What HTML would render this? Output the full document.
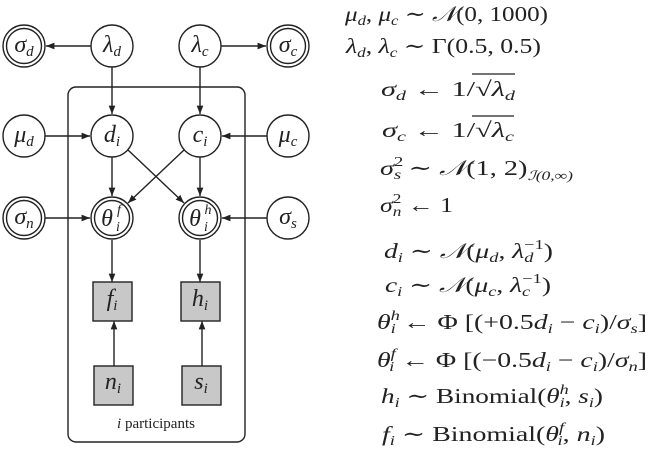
<!DOCTYPE html>
<html><head><meta charset="utf-8"><style>
html,body{margin:0;padding:0;background:#fff}
svg{display:block}
text{font-family:"Liberation Serif","DejaVu Serif",serif;fill:#222}
.i{font-style:italic}
</style></head><body>
<svg width="649" height="464" viewBox="0 0 649 464" xmlns="http://www.w3.org/2000/svg">
<defs><marker id="a" viewBox="0 0 10 10" refX="10" refY="5" markerWidth="6" markerHeight="6" orient="auto"><path d="M0,1 L10,5 L0,9 z" fill="#222"/></marker></defs>
<g stroke="#222" stroke-width="1.4" fill="none">
<rect x="68" y="87" width="177" height="355" rx="8"/>
<line x1="91" y1="46" x2="46" y2="46" marker-end="url(#a)"/>
<line x1="221" y1="46" x2="266" y2="46" marker-end="url(#a)"/>
<line x1="112" y1="67" x2="112" y2="114" marker-end="url(#a)"/>
<line x1="200" y1="67" x2="200" y2="114" marker-end="url(#a)"/>
<line x1="45" y1="136" x2="90" y2="136" marker-end="url(#a)"/>
<line x1="267" y1="136" x2="222" y2="136" marker-end="url(#a)"/>
<line x1="112" y1="157" x2="112" y2="196" marker-end="url(#a)"/>
<line x1="200" y1="157" x2="200" y2="196" marker-end="url(#a)"/>
<line x1="128" y1="150" x2="184" y2="203" marker-end="url(#a)"/>
<line x1="184" y1="150" x2="128" y2="203" marker-end="url(#a)"/>
<line x1="45" y1="218" x2="90" y2="218" marker-end="url(#a)"/>
<line x1="267" y1="218" x2="222" y2="218" marker-end="url(#a)"/>
<line x1="112" y1="240" x2="112" y2="282" marker-end="url(#a)"/>
<line x1="200" y1="240" x2="200" y2="282" marker-end="url(#a)"/>
<line x1="114" y1="366" x2="114" y2="321" marker-end="url(#a)"/>
<line x1="202" y1="366" x2="202" y2="321" marker-end="url(#a)"/>
<g fill="#fff">
<circle cx="24" cy="46" r="21"/><circle cx="24" cy="46" r="17.5"/>
<circle cx="112" cy="46" r="21"/>
<circle cx="200" cy="46" r="21"/>
<circle cx="288" cy="46" r="21"/><circle cx="288" cy="46" r="17.5"/>
<circle cx="24" cy="136" r="21"/>
<circle cx="112" cy="136" r="21"/>
<circle cx="200" cy="136" r="21"/>
<circle cx="288" cy="136" r="21"/>
<circle cx="24" cy="218" r="21"/><circle cx="24" cy="218" r="17.5"/>
<circle cx="112" cy="218" r="21"/><circle cx="112" cy="218" r="17.5"/>
<circle cx="200" cy="218" r="21"/><circle cx="200" cy="218" r="17.5"/>
<circle cx="288" cy="218" r="21"/>
</g>
<g fill="#c8c8c8">
<rect x="93" y="282" width="39" height="39"/>
<rect x="181" y="282" width="39" height="39"/>
<rect x="94" y="366" width="39" height="39"/>
<rect x="182" y="366" width="39" height="39"/>
</g>
</g>
<g font-size="24" text-anchor="middle">
<text x="24" y="52" class="i">σ<tspan font-size="15" dy="4">d</tspan></text>
<text x="112" y="52" class="i">λ<tspan font-size="15" dy="4">d</tspan></text>
<text x="200" y="52" class="i">λ<tspan font-size="15" dy="4">c</tspan></text>
<text x="288" y="52" class="i">σ<tspan font-size="15" dy="4">c</tspan></text>
<text x="24" y="142" class="i">μ<tspan font-size="15" dy="4">d</tspan></text>
<text x="112" y="142" class="i">d<tspan font-size="15" dy="4">i</tspan></text>
<text x="200" y="142" class="i">c<tspan font-size="15" dy="4">i</tspan></text>
<text x="288" y="142" class="i">μ<tspan font-size="15" dy="4">c</tspan></text>
<text x="24" y="224" class="i">σ<tspan font-size="15" dy="4">n</tspan></text>
<text x="107" y="226" class="i">θ</text><text x="119" y="214" font-size="14" class="i">f</text><text x="118" y="231" font-size="14" class="i">i</text>
<text x="195" y="226" class="i">θ</text><text x="208" y="214" font-size="14" class="i">h</text><text x="206" y="231" font-size="14" class="i">i</text>
<text x="288" y="224" class="i">σ<tspan font-size="15" dy="4">s</tspan></text>
<text x="112" y="306" class="i">f<tspan font-size="15" dy="4">i</tspan></text>
<text x="200" y="306" class="i">h<tspan font-size="15" dy="4">i</tspan></text>
<text x="113" y="389" class="i">n<tspan font-size="15" dy="4">i</tspan></text>
<text x="201" y="389" class="i">s<tspan font-size="15" dy="4">i</tspan></text>
</g>
<text x="156" y="428" font-size="15" text-anchor="middle"><tspan class="i">i</tspan> participants</text>
<g font-size="21">
<text x="345" y="21" textLength="203" lengthAdjust="spacingAndGlyphs"><tspan class="i">μ</tspan><tspan font-size="14" class="i" dy="4">d</tspan><tspan dy="-4">, </tspan><tspan class="i">μ</tspan><tspan font-size="14" class="i" dy="4">c</tspan><tspan dy="-4"> ∼ </tspan><tspan class="i">𝒩</tspan>(0, 1000)</text>
<text x="346" y="53" textLength="195" lengthAdjust="spacingAndGlyphs"><tspan class="i">λ</tspan><tspan font-size="14" class="i" dy="4">d</tspan><tspan dy="-4">, </tspan><tspan class="i">λ</tspan><tspan font-size="14" class="i" dy="4">c</tspan><tspan dy="-4"> ∼ Γ(0.5, 0.5)</tspan></text>
<text x="381" y="96" textLength="134" lengthAdjust="spacingAndGlyphs"><tspan class="i">σ</tspan><tspan font-size="14" class="i" dy="4">d</tspan><tspan dy="-4"> ← 1/√</tspan><tspan class="i">λ</tspan><tspan font-size="14" class="i" dy="4">d</tspan></text>
<text x="382" y="137" textLength="132" lengthAdjust="spacingAndGlyphs"><tspan class="i">σ</tspan><tspan font-size="14" class="i" dy="4">c</tspan><tspan dy="-4"> ← 1/√</tspan><tspan class="i">λ</tspan><tspan font-size="14" class="i" dy="4">c</tspan></text>
<line x1="472" y1="74" x2="515" y2="74" stroke="#222" stroke-width="1.2"/>
<line x1="472" y1="116" x2="514" y2="116" stroke="#222" stroke-width="1.2"/>
<text x="380" y="175" textLength="193" lengthAdjust="spacingAndGlyphs"><tspan class="i">σ</tspan><tspan font-size="14" dy="-9">2</tspan><tspan font-size="14" class="i" dx="-7" dy="13">s</tspan><tspan dy="-4"> ∼ </tspan><tspan class="i">𝒩</tspan>(1, 2)<tspan font-size="13" class="i" dy="5">ℐ(0,∞)</tspan></text>
<text x="380" y="212" textLength="73" lengthAdjust="spacingAndGlyphs"><tspan class="i">σ</tspan><tspan font-size="14" dy="-9">2</tspan><tspan font-size="14" class="i" dx="-7" dy="13">n</tspan><tspan dy="-4"> ← 1</tspan></text>
<text x="384" y="258" textLength="169" lengthAdjust="spacingAndGlyphs"><tspan class="i">d</tspan><tspan font-size="14" class="i" dy="4">i</tspan><tspan dy="-4"> ∼ </tspan><tspan class="i">𝒩</tspan>(<tspan class="i">μ</tspan><tspan font-size="14" class="i" dy="4">d</tspan><tspan dy="-4">, </tspan><tspan class="i">λ</tspan><tspan font-size="14" class="i" dy="4">d</tspan><tspan font-size="14" dx="-7" dy="-13">−1</tspan><tspan dy="9">)</tspan></text>
<text x="385" y="292" textLength="166" lengthAdjust="spacingAndGlyphs"><tspan class="i">c</tspan><tspan font-size="14" class="i" dy="4">i</tspan><tspan dy="-4"> ∼ </tspan><tspan class="i">𝒩</tspan>(<tspan class="i">μ</tspan><tspan font-size="14" class="i" dy="4">c</tspan><tspan dy="-4">, </tspan><tspan class="i">λ</tspan><tspan font-size="14" class="i" dy="4">c</tspan><tspan font-size="14" dx="-6" dy="-13">−1</tspan><tspan dy="9">)</tspan></text>
<text x="377" y="329" textLength="270" lengthAdjust="spacingAndGlyphs"><tspan class="i">θ</tspan><tspan font-size="14" class="i" dy="-9">h</tspan><tspan font-size="14" class="i" dx="-7" dy="13">i</tspan><tspan dy="-4"> ← Φ [(+0.5</tspan><tspan class="i">d</tspan><tspan font-size="14" class="i" dy="4">i</tspan><tspan dy="-4"> − </tspan><tspan class="i">c</tspan><tspan font-size="14" class="i" dy="4">i</tspan><tspan dy="-4">)/</tspan><tspan class="i">σ</tspan><tspan font-size="14" class="i" dy="4">s</tspan><tspan dy="-4">]</tspan></text>
<text x="377" y="367" textLength="270" lengthAdjust="spacingAndGlyphs"><tspan class="i">θ</tspan><tspan font-size="14" class="i" dy="-9">f</tspan><tspan font-size="14" class="i" dx="-5" dy="13">i</tspan><tspan dy="-4"> ← Φ [(−0.5</tspan><tspan class="i">d</tspan><tspan font-size="14" class="i" dy="4">i</tspan><tspan dy="-4"> − </tspan><tspan class="i">c</tspan><tspan font-size="14" class="i" dy="4">i</tspan><tspan dy="-4">)/</tspan><tspan class="i">σ</tspan><tspan font-size="14" class="i" dy="4">n</tspan><tspan dy="-4">]</tspan></text>
<text x="381" y="403" textLength="222" lengthAdjust="spacingAndGlyphs"><tspan class="i">h</tspan><tspan font-size="14" class="i" dy="4">i</tspan><tspan dy="-4"> ∼ Binomial(</tspan><tspan class="i">θ</tspan><tspan font-size="14" class="i" dy="-9">h</tspan><tspan font-size="14" class="i" dx="-7" dy="13">i</tspan><tspan dy="-4">, </tspan><tspan class="i">s</tspan><tspan font-size="14" class="i" dy="4">i</tspan><tspan dy="-4">)</tspan></text>
<text x="382" y="441" textLength="223" lengthAdjust="spacingAndGlyphs"><tspan class="i">f</tspan><tspan font-size="14" class="i" dy="4">i</tspan><tspan dy="-4"> ∼ Binomial(</tspan><tspan class="i">θ</tspan><tspan font-size="14" class="i" dy="-9">f</tspan><tspan font-size="14" class="i" dx="-5" dy="13">i</tspan><tspan dy="-4">, </tspan><tspan class="i">n</tspan><tspan font-size="14" class="i" dy="4">i</tspan><tspan dy="-4">)</tspan></text>
</g>
</svg>
</body></html>
